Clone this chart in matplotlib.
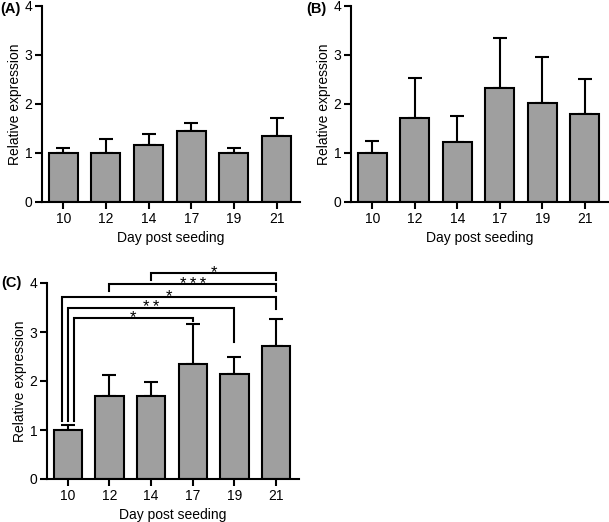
import matplotlib
matplotlib.use("Agg")
import matplotlib.pyplot as plt
import numpy as np

plt.rcParams['font.family'] = ['Liberation Sans', 'DejaVu Sans']

days = ["10", "12", "14", "17", "19", "21"]

mean_a = [1.00, 1.01, 1.17, 1.45, 0.99, 1.35]
err_a = [0.10, 0.28, 0.22, 0.16, 0.12, 0.36]

mean_b = [0.99, 1.71, 1.22, 2.33, 2.03, 1.79]
err_b = [0.25, 0.83, 0.53, 1.01, 0.92, 0.71]

mean_c = [1.00, 1.69, 1.70, 2.35, 2.15, 2.71]
err_c = [0.11, 0.43, 0.27, 0.81, 0.34, 0.55]

# significance comparisons in panel C: (group i, group j, label)
comparisons = [(0, 3, "*"), (0, 4, "**"), (0, 5, "*"), (1, 5, "***"), (2, 5, "*")]
# layout for brackets: (line height, left end, right end, left x offset)
bracket_layout = [(3.29, 1.19, 3.22, 0.14), (3.50, 1.19, 2.79, 0.0),
                  (3.71, 1.19, 3.46, -0.14), (3.97, 3.83, 3.83, 0.0),
                  (4.20, 4.07, 4.07, 0.0)]

W, H = 609, 522
fig = plt.figure(figsize=(W / 100, H / 100), dpi=100)

def px_axes(left, right, top, bottom):
    return fig.add_axes([left / W, 1 - bottom / H, (right - left) / W, (bottom - top) / H])

LW = 1.5
BAR_COLOR = "#9f9f9f"
FS = 10

def draw_panel(ax, means, errs, label, lab_xy):
    x = np.arange(len(days))
    ax.bar(x, means, width=0.68, color=BAR_COLOR, edgecolor="black", linewidth=LW, zorder=2)
    ax.errorbar(x, means, yerr=[np.zeros(len(errs)), errs], fmt="none", ecolor="black",
                elinewidth=LW, capsize=5, capthick=LW, zorder=1)
    ax.set_xlim(-0.5, 5.55)
    ax.set_ylim(0, 4)
    ax.set_yticks([0, 1, 2, 3, 4])
    ax.set_xticks(x)
    ax.set_xticklabels(days)
    for s in ["top", "right"]:
        ax.spines[s].set_visible(False)
    for s in ["left", "bottom"]:
        ax.spines[s].set_linewidth(LW)
    ax.tick_params(axis="both", direction="out", length=5, width=LW, labelsize=FS, pad=2)
    ax.set_ylabel("Relative expression", fontsize=FS, labelpad=2)
    ax.set_xlabel("Day post seeding", fontsize=FS, labelpad=4)
    fig.text(lab_xy[0] / W, 1 - lab_xy[1] / H, label, fontsize=10.5, fontweight="bold",
             ha="left", va="top")

ax_a = px_axes(42, 300, 6, 202)
draw_panel(ax_a, mean_a, err_a, "(A)", (0, 2))
ax_b = px_axes(351, 608, 6, 202)
draw_panel(ax_b, mean_b, err_b, "(B)", (306, 2))
ax_c = px_axes(47, 299, 283, 479)
draw_panel(ax_c, mean_c, err_c, "(C)", (1, 276))

for (i, j, lab), (yl, y1, y2, off) in zip(comparisons, bracket_layout):
    xi = i + off
    ax_c.plot([xi, xi, j, j], [y1, yl, yl, y2], color="black", lw=LW, clip_on=False,
              solid_joinstyle="miter", zorder=3)
    ax_c.text((xi + j) / 2, yl - 0.09, "\u2009".join(lab), ha="center", va="baseline",
              fontsize=12, clip_on=False)

fig.savefig("out.png", dpi=100)
